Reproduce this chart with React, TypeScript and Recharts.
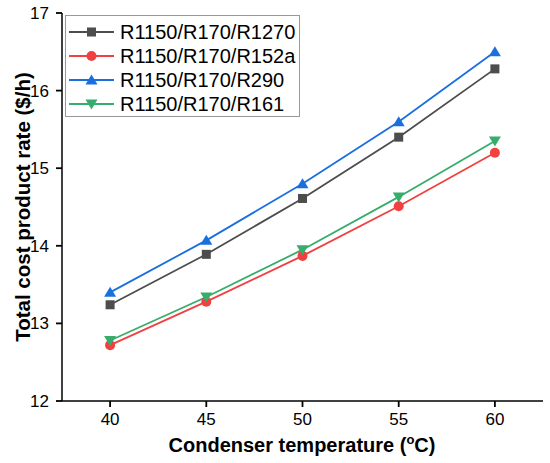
import { LineChart, Line, XAxis, YAxis } from "recharts";

const temps = [40, 45, 50, 55, 60];
const r1270 = [13.24, 13.89, 14.61, 15.4, 16.28];
const r152a = [12.72, 13.28, 13.87, 14.51, 15.2];
const r290 = [13.4, 14.07, 14.8, 15.6, 16.5];
const r161 = [12.78, 13.34, 13.95, 14.63, 15.35];

const xMajor = [40, 45, 50, 55, 60];
const xMinor = [37.5, 42.5, 47.5, 52.5, 57.5, 62.5];
const yMajor = [12, 13, 14, 15, 16, 17];
const yMinor = [12.5, 13.5, 14.5, 15.5, 16.5];

const series = [
  { key: "r1270", name: "R1150/R170/R1270", color: "#4d4d4d", shape: "square", values: r1270 },
  { key: "r152a", name: "R1150/R170/R152a", color: "#f14040", shape: "circle", values: r152a },
  { key: "r290", name: "R1150/R170/R290", color: "#1a6fdf", shape: "up", values: r290 },
  { key: "r161", name: "R1150/R170/R161", color: "#37ad6b", shape: "down", values: r161 },
];

const data = temps.map((t, i) => {
  const row: any = { t };
  series.forEach((s) => (row[s.key] = s.values[i]));
  return row;
});

const FONT = "Arial, 'Liberation Sans', sans-serif";
const axisLine = { stroke: "#000", strokeWidth: 1.5 };
const tickLine = { stroke: "#000", strokeWidth: 1.8 };

const Marker = ({ cx, cy, shape, color }: any) => {
  if (cx == null || cy == null) return null;
  if (shape === "square") return <rect x={cx - 4.5} y={cy - 4.5} width={9} height={9} fill={color} />;
  if (shape === "circle") return <circle cx={cx} cy={cy} r={5} fill={color} />;
  if (shape === "up")
    return <polygon points={`${cx},${cy - 5.5} ${cx + 6},${cy + 4.5} ${cx - 6},${cy + 4.5}`} fill={color} />;
  return <polygon points={`${cx},${cy + 5.5} ${cx + 6},${cy - 4.5} ${cx - 6},${cy - 4.5}`} fill={color} />;
};

const LegendBox = () => (
  <div
    style={{
      position: "absolute",
      left: 65,
      top: 15,
      width: 235,
      height: 102,
      border: "1px solid #999",
      background: "#fff",
      boxSizing: "border-box",
    }}
  >
    {series.map((s, i) => (
      <div
        key={s.key}
        style={{ position: "absolute", left: 2, top: 4 + i * 24, height: 24, display: "flex", alignItems: "center" }}
      >
        <svg width={48} height={24}>
          <line x1={1} y1={12} x2={46} y2={12} stroke={s.color} strokeWidth={1.8} />
          <Marker cx={23.5} cy={12} shape={s.shape} color={s.color} />
        </svg>
        <span style={{ fontFamily: FONT, fontSize: 20, marginLeft: 4, color: "#000", whiteSpace: "nowrap" }}>
          {s.name}
        </span>
      </div>
    ))}
  </div>
);

export default function App() {
  return (
    <div style={{ position: "absolute", left: 0, top: 0, width: 550, height: 463, background: "#fff" }}>
      <LineChart width={550} height={463} data={data} margin={{ top: 13, right: 7, bottom: 0, left: 0 }}>
        {/* minor ticks sit on the plot edge, majors carry the labels */}
        <XAxis
          xAxisId="minor"
          dataKey="t"
          type="number"
          domain={[37.5, 62.5]}
          ticks={xMinor}
          interval={0}
          tickSize={3}
          tick={false}
          stroke="#000"
          tickLine={tickLine}
          axisLine={false}
          height={0}
        />
        <XAxis
          xAxisId="b"
          dataKey="t"
          type="number"
          domain={[37.5, 62.5]}
          ticks={xMajor}
          interval={0}
          tickSize={6}
          tickMargin={6}
          stroke="#000"
          tickLine={tickLine}
          tick={{ fontSize: 17, fontFamily: FONT, fill: "#000" }}
          axisLine={axisLine}
          height={62}
          label={{
            content: () => (
              <text x={302} y={452} textAnchor="middle" fontSize={20} fontWeight="bold" fontFamily={FONT} fill="#000">
                Condenser temperature (
                <tspan fontSize={13} dy={-8}>o</tspan>
                <tspan dy={8}>C)</tspan>
              </text>
            ),
          }}
        />
        <XAxis
          xAxisId="t"
          orientation="top"
          dataKey="t"
          type="number"
          domain={[37.5, 62.5]}
          tick={false}
          tickLine={false}
          height={0}
          axisLine={axisLine}
        />
        <YAxis
          yAxisId="minor"
          type="number"
          domain={[12, 17]}
          ticks={yMinor}
          interval={0}
          tickSize={3}
          tick={false}
          stroke="#000"
          tickLine={tickLine}
          axisLine={false}
          width={0}
        />
        <YAxis
          yAxisId="l"
          type="number"
          domain={[12, 17]}
          ticks={yMajor}
          interval={0}
          tickSize={6}
          tickMargin={7}
          stroke="#000"
          tickLine={tickLine}
          tick={{ fontSize: 17, fontFamily: FONT, fill: "#000" }}
          axisLine={axisLine}
          width={62}
          label={{
            content: () => (
              <text
                x={30}
                y={207}
                transform="rotate(-90 30 207)"
                textAnchor="middle"
                fontSize={20.5}
                fontWeight="bold"
                fontFamily={FONT}
                fill="#000"
              >
                Total cost product rate ($/h)
              </text>
            ),
          }}
        />
        <YAxis
          yAxisId="r"
          orientation="right"
          type="number"
          domain={[12, 17]}
          tick={false}
          tickLine={false}
          width={0}
          axisLine={axisLine}
        />
        {series.map((s) => (
          <Line
            key={s.key}
            xAxisId="b"
            yAxisId="l"
            dataKey={s.key}
            name={s.name}
            type="linear"
            stroke={s.color}
            strokeWidth={1.8}
            isAnimationActive={false}
            dot={(p: any) => <Marker key={`${s.key}-${p.index}`} cx={p.cx} cy={p.cy} shape={s.shape} color={s.color} />}
            activeDot={false}
          />
        ))}
      </LineChart>
      <LegendBox />
    </div>
  );
}
